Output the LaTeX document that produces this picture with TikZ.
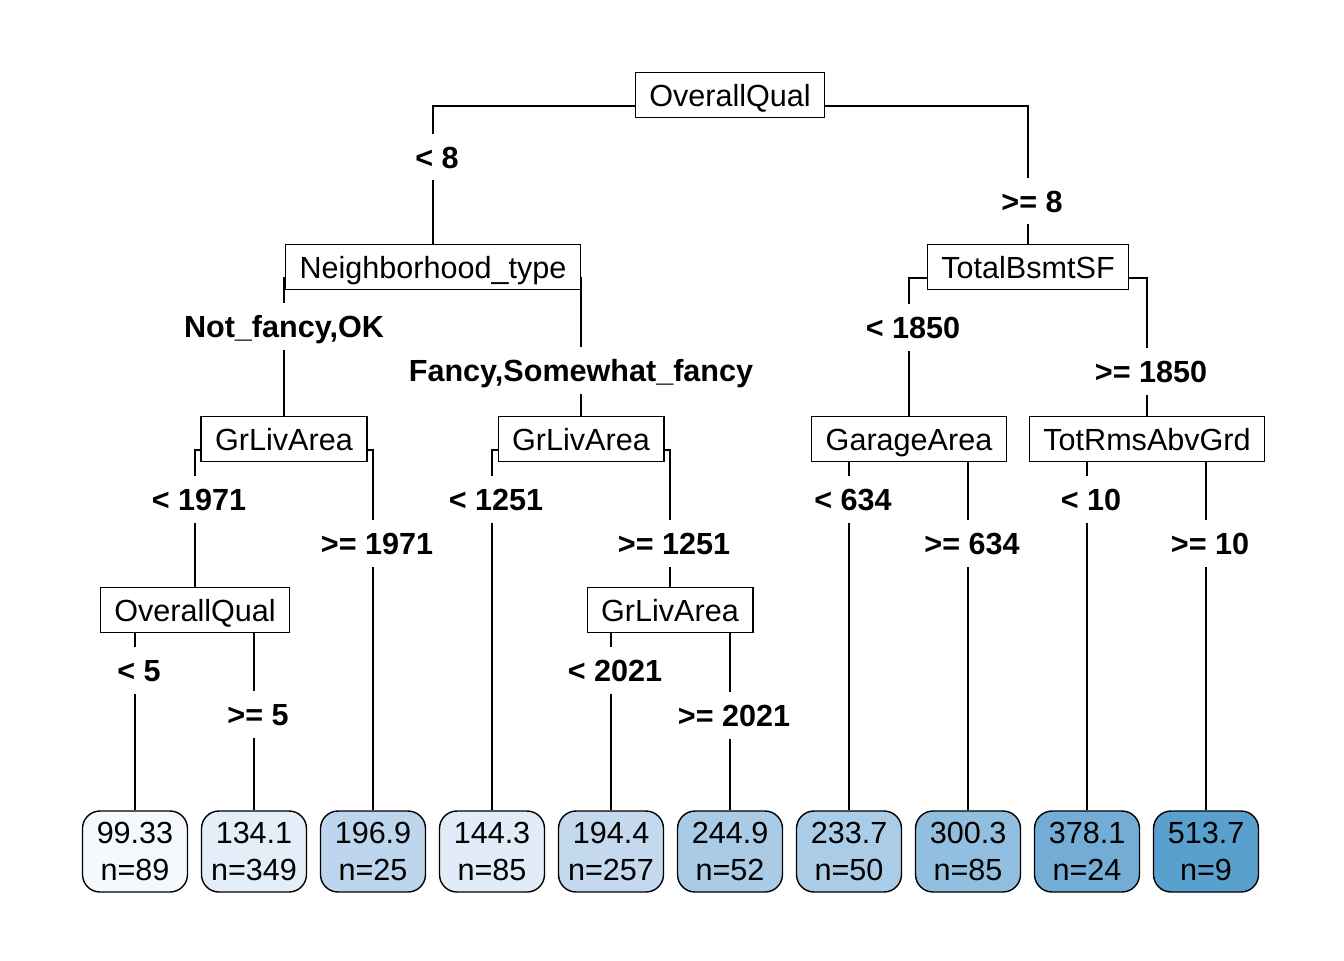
\documentclass[tikz,border=0pt]{standalone}
\usepackage{fontspec}
\setmainfont{Liberation Sans}
\usetikzlibrary{calc}
\pgfdeclarelayer{bg}
\pgfsetlayers{bg,main}

\definecolor{leafA}{HTML}{F5F9FE}
\definecolor{leafB}{HTML}{E3EEF9}
\definecolor{leafC}{HTML}{BDD5ED}
\definecolor{leafD}{HTML}{E1ECF8}
\definecolor{leafE}{HTML}{C4D9EE}
\definecolor{leafF}{HTML}{A9CBE6}
\definecolor{leafG}{HTML}{ABCCE6}
\definecolor{leafH}{HTML}{92BFDF}
\definecolor{leafI}{HTML}{73ADD6}
\definecolor{leafJ}{HTML}{5AA0CF}

\tikzset{
  split/.style={draw, fill=white, line width=0.8pt, minimum height=0.9cm, inner xsep=0.28cm, inner ysep=0pt, text height=13.6pt, text depth=0pt},
  leaf/.style={draw, line width=0.8pt, rounded corners=0.35cm, minimum width=2.1cm, minimum height=1.62cm, inner sep=0pt, align=center},
  lbl/.style={fill=white, font=\bfseries, minimum height=0.94cm, inner xsep=2pt, inner ysep=0pt, text height=13.6pt, text depth=0pt},
  branch/.style={line width=0.8pt}
}

\begin{document}
\begin{tikzpicture}[x=0.02cm, y=-0.02cm]\fontsize{17.4}{21}\selectfont
	\useasboundingbox (0,0) rectangle (1344,960);
	% split boxes
	\node[split] (root) at (730,95) {OverallQual};
	\node[split] (nbh) at (433,267) {Neighborhood\_type};
	\node[split] (bsmt) at (1028,267) {TotalBsmtSF};
	\node[split] (livA) at (284,439) {GrLivArea};
	\node[split] (livB) at (581,439) {GrLivArea};
	\node[split] (garage) at (909,439) {GarageArea};
	\node[split] (rooms) at (1147,439) {TotRmsAbvGrd};
	\node[split] (qual) at (195,610) {OverallQual};
	\node[split] (livC) at (670,610) {GrLivArea};
	% leaves
	\foreach \x/\v/\n/\c [count=\i] in {135/99.33/89/leafA, 254/134.1/349/leafB, 373/196.9/25/leafC,
		492/144.3/85/leafD, 611/194.4/257/leafE, 730/244.9/52/leafF, 849/233.7/50/leafG,
		968/300.3/85/leafH, 1087/378.1/24/leafI, 1206/513.7/9/leafJ}
		\node[leaf, fill=\c] (leaf\i) at (\x,851.5) {\v\\n=\n};
	% branches
	\begin{pgfonlayer}{bg}
	\draw[branch] ([yshift=-0.22cm]root.center) -| (nbh.north);
	\draw[branch] ([yshift=-0.22cm]root.center) -| (bsmt.north);
	\draw[branch] ([yshift=-0.22cm]nbh.center) -| (livA.north);
	\draw[branch] ([yshift=-0.22cm]nbh.center) -| (livB.north);
	\draw[branch] ([yshift=-0.22cm]bsmt.center) -| (garage.north);
	\draw[branch] ([yshift=-0.22cm]bsmt.center) -| (rooms.north);
	\draw[branch] ([yshift=-0.22cm]livA.center) -| (qual.north);
	\draw[branch] ([yshift=-0.22cm]livA.center) -| (leaf3.north);
	\draw[branch] ([yshift=-0.22cm]livB.center) -| (leaf4.north);
	\draw[branch] ([yshift=-0.22cm]livB.center) -| (livC.north);
	\draw[branch] ([yshift=-0.22cm]garage.center) -| (leaf7.north);
	\draw[branch] ([yshift=-0.22cm]garage.center) -| (leaf8.north);
	\draw[branch] ([yshift=-0.22cm]rooms.center) -| (leaf9.north);
	\draw[branch] ([yshift=-0.22cm]rooms.center) -| (leaf10.north);
	\draw[branch] ([yshift=-0.22cm]qual.center) -| (leaf1.north);
	\draw[branch] ([yshift=-0.22cm]qual.center) -| (leaf2.north);
	\draw[branch] ([yshift=-0.22cm]livC.center) -| (leaf5.north);
	\draw[branch] ([yshift=-0.22cm]livC.center) -| (leaf6.north);
	\end{pgfonlayer}
	% split labels
	\node[lbl] (l1) at (437,157) {< 8};
	\node[lbl] (r1) at (1032,201) {>= 8};
	\node[lbl] (l2) at (284,326) {Not\_fancy,OK};
	\node[lbl] (r2) at (581,370) {Fancy,Somewhat\_fancy};
	\node[lbl] (l3) at (913,327) {< 1850};
	\node[lbl] (r3) at (1151,371) {>= 1850};
	\node[lbl] (l4) at (199,499) {< 1971};
	\node[lbl] (r4) at (377,543) {>= 1971};
	\node[lbl] (l5) at (496,499) {< 1251};
	\node[lbl] (r5) at (674,543) {>= 1251};
	\node[lbl] (l6) at (853,499) {< 634};
	\node[lbl] (r6) at (972,543) {>= 634};
	\node[lbl] (l7) at (1091,499) {< 10};
	\node[lbl] (r7) at (1210,543) {>= 10};
	\node[lbl] (l8) at (139,670) {< 5};
	\node[lbl] (r8) at (258,714) {>= 5};
	\node[lbl] (l9) at (615,670) {< 2021};
	\node[lbl] (r9) at (734,715) {>= 2021};
\end{tikzpicture}
\end{document}
